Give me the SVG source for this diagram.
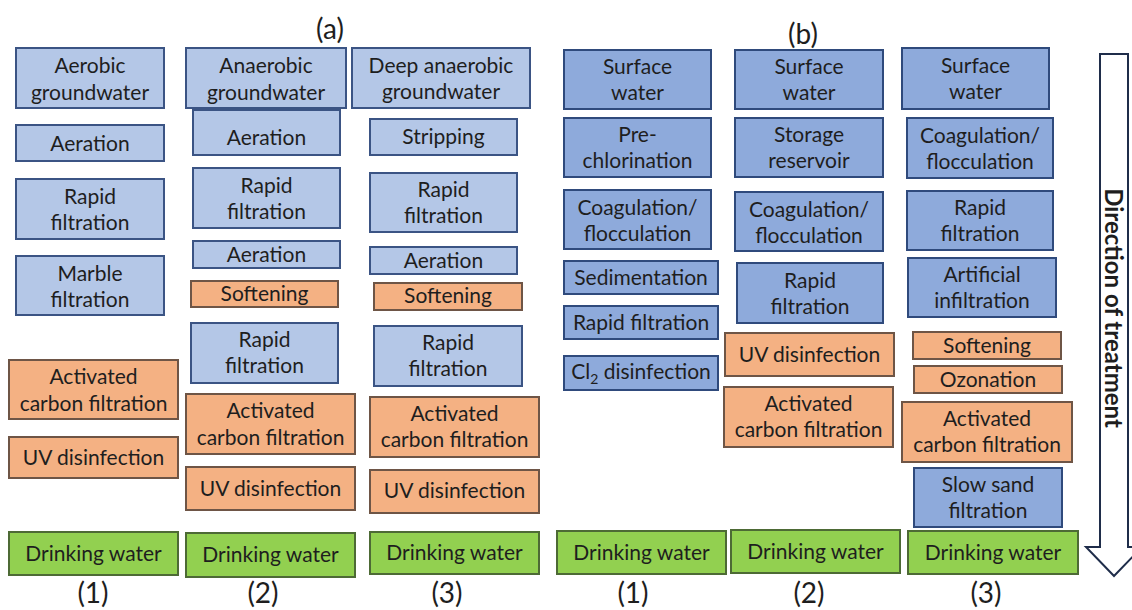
<svg xmlns="http://www.w3.org/2000/svg" width="1132" height="610" viewBox="0 0 1132 610">
  <style>
    rect { stroke-width: 2; }
    .ga { fill: #b4c7e7; stroke: #3b5484; }
    .sw { fill: #8eaadb; stroke: #2f4a7c; }
    .or { fill: #f4b183; stroke: #6e5546; }
    .dw { fill: #92d050; stroke: #4d6a35; }
    text { font-family: Lato, "Liberation Sans", sans-serif; font-size: 21px; fill: #1e1e1e; text-anchor: middle; }
    .lbl { font-size: 28px; }
    .dir { font-size: 24px; font-weight: bold; }
  </style>
  <rect width="1132" height="610" fill="#fff"/>

  <!-- panel labels -->
  <g id="labels">
    <text class="lbl" x="330" y="39">(a)</text>
    <text class="lbl" x="803" y="44">(b)</text>
    <text class="lbl" x="93" y="603">(1)</text>
    <text class="lbl" x="263" y="603">(2)</text>
    <text class="lbl" x="447" y="603">(3)</text>
    <text class="lbl" x="633" y="603">(1)</text>
    <text class="lbl" x="809" y="603">(2)</text>
    <text class="lbl" x="986" y="603">(3)</text>
  </g>

  <!-- (a)(1) aerobic groundwater -->
  <g id="a1-source"><rect class="ga" x="16" y="48" width="148" height="60"/><text x="90" y="73">Aerobic</text><text x="90" y="100">groundwater</text></g>
  <g id="a1-aeration"><rect class="ga" x="16" y="125" width="148" height="36"/><text x="90" y="151">Aeration</text></g>
  <g id="a1-rapid"><rect class="ga" x="16" y="179" width="148" height="60"/><text x="90" y="204">Rapid</text><text x="90" y="230">filtration</text></g>
  <g id="a1-marble"><rect class="ga" x="16" y="256" width="148" height="59"/><text x="90" y="281">Marble</text><text x="90" y="307">filtration</text></g>
  <g id="a1-carbon"><rect class="or" x="9" y="360" width="169" height="59"/><text x="93.5" y="384">Activated</text><text x="93.5" y="411">carbon filtration</text></g>
  <g id="a1-uv"><rect class="or" x="9" y="437" width="169" height="41"/><text x="93.5" y="465">UV disinfection</text></g>
  <g id="a1-drinking"><rect class="dw" x="9" y="532" width="169" height="43"/><text x="93.5" y="561">Drinking water</text></g>

  <!-- (a)(2) anaerobic groundwater -->
  <g id="a2-source"><rect class="ga" x="186" y="48" width="160" height="60"/><text x="266" y="73">Anaerobic</text><text x="266" y="100">groundwater</text></g>
  <g id="a2-aeration1"><rect class="ga" x="193" y="110" width="147" height="45"/><text x="266.5" y="145">Aeration</text></g>
  <g id="a2-rapid1"><rect class="ga" x="193" y="168" width="147" height="60"/><text x="266.5" y="193">Rapid</text><text x="266.5" y="219">filtration</text></g>
  <g id="a2-aeration2"><rect class="ga" x="193" y="241" width="147" height="27"/><text x="266.5" y="262">Aeration</text></g>
  <g id="a2-softening"><rect class="or" x="191" y="281" width="147" height="26"/><text x="264.5" y="301">Softening</text></g>
  <g id="a2-rapid2"><rect class="ga" x="191" y="323" width="147" height="60"/><text x="264.5" y="347">Rapid</text><text x="264.5" y="373">filtration</text></g>
  <g id="a2-carbon"><rect class="or" x="186" y="394" width="169" height="60"/><text x="270.5" y="418">Activated</text><text x="270.5" y="445">carbon filtration</text></g>
  <g id="a2-uv"><rect class="or" x="186" y="467" width="169" height="43"/><text x="270.5" y="496">UV disinfection</text></g>
  <g id="a2-drinking"><rect class="dw" x="186" y="533" width="169" height="44"/><text x="270.5" y="562">Drinking water</text></g>

  <!-- (a)(3) deep anaerobic groundwater -->
  <g id="a3-source"><rect class="ga" x="352" y="48" width="178" height="60"/><text x="441" y="73">Deep anaerobic</text><text x="441" y="99">groundwater</text></g>
  <g id="a3-stripping"><rect class="ga" x="370" y="119" width="147" height="36"/><text x="443.5" y="144">Stripping</text></g>
  <g id="a3-rapid1"><rect class="ga" x="370" y="173" width="147" height="59"/><text x="443.5" y="197">Rapid</text><text x="443.5" y="223">filtration</text></g>
  <g id="a3-aeration"><rect class="ga" x="370" y="247" width="147" height="27"/><text x="443.5" y="268">Aeration</text></g>
  <g id="a3-softening"><rect class="or" x="374" y="283" width="148" height="27"/><text x="448" y="303">Softening</text></g>
  <g id="a3-rapid2"><rect class="ga" x="374" y="326" width="148" height="60"/><text x="448" y="350">Rapid</text><text x="448" y="376">filtration</text></g>
  <g id="a3-carbon"><rect class="or" x="370" y="397" width="169" height="60"/><text x="454.5" y="421">Activated</text><text x="454.5" y="447">carbon filtration</text></g>
  <g id="a3-uv"><rect class="or" x="370" y="470" width="169" height="43"/><text x="454.5" y="498">UV disinfection</text></g>
  <g id="a3-drinking"><rect class="dw" x="370" y="532" width="169" height="42"/><text x="454.5" y="560">Drinking water</text></g>

  <!-- (b)(1) surface water -->
  <g id="b1-source"><rect class="sw" x="564" y="50" width="147" height="59"/><text x="637.5" y="74">Surface</text><text x="637.5" y="100">water</text></g>
  <g id="b1-prechlor"><rect class="sw" x="564" y="118" width="147" height="59"/><text x="637.5" y="142">Pre-</text><text x="637.5" y="168">chlorination</text></g>
  <g id="b1-coag"><rect class="sw" x="564" y="190" width="147" height="59"/><text x="637.5" y="215">Coagulation/</text><text x="637.5" y="241">flocculation</text></g>
  <g id="b1-sedimentation"><rect class="sw" x="564" y="261" width="154" height="33"/><text x="641" y="285">Sedimentation</text></g>
  <g id="b1-rapid"><rect class="sw" x="564" y="306" width="154" height="33"/><text x="641" y="330">Rapid filtration</text></g>
  <g id="b1-cl2"><rect class="sw" x="564" y="356" width="154" height="34"/><text x="641" y="379">Cl<tspan font-size="14" dy="5">2</tspan><tspan dy="-5"> disinfection</tspan></text></g>
  <g id="b1-drinking"><rect class="dw" x="557" y="531" width="169" height="43"/><text x="641.5" y="560">Drinking water</text></g>

  <!-- (b)(2) surface water with storage -->
  <g id="b2-source"><rect class="sw" x="735" y="50" width="148" height="59"/><text x="809" y="74">Surface</text><text x="809" y="100">water</text></g>
  <g id="b2-storage"><rect class="sw" x="735" y="118" width="148" height="59"/><text x="809" y="142">Storage</text><text x="809" y="168">reservoir</text></g>
  <g id="b2-coag"><rect class="sw" x="735" y="192" width="148" height="59"/><text x="809" y="217">Coagulation/</text><text x="809" y="243">flocculation</text></g>
  <g id="b2-rapid"><rect class="sw" x="737" y="263" width="146" height="60"/><text x="810" y="288">Rapid</text><text x="810" y="314">filtration</text></g>
  <g id="b2-uv"><rect class="or" x="725" y="333" width="169" height="43"/><text x="809.5" y="362">UV disinfection</text></g>
  <g id="b2-carbon"><rect class="or" x="724" y="387" width="169" height="60"/><text x="808.5" y="411">Activated</text><text x="808.5" y="437">carbon filtration</text></g>
  <g id="b2-drinking"><rect class="dw" x="731" y="530" width="169" height="43"/><text x="815.5" y="559">Drinking water</text></g>

  <!-- (b)(3) surface water with infiltration -->
  <g id="b3-source"><rect class="sw" x="902" y="48" width="147" height="61"/><text x="975.5" y="73">Surface</text><text x="975.5" y="99">water</text></g>
  <g id="b3-coag"><rect class="sw" x="907" y="118" width="146" height="60"/><text x="980" y="143">Coagulation/</text><text x="980" y="169">flocculation</text></g>
  <g id="b3-rapid"><rect class="sw" x="907" y="191" width="146" height="59"/><text x="980" y="215">Rapid</text><text x="980" y="241">filtration</text></g>
  <g id="b3-infiltration"><rect class="sw" x="908" y="258" width="148" height="59"/><text x="982" y="282">Artificial</text><text x="982" y="308">infiltration</text></g>
  <g id="b3-softening"><rect class="or" x="913" y="332" width="148" height="27"/><text x="987" y="353">Softening</text></g>
  <g id="b3-ozonation"><rect class="or" x="914" y="366" width="148" height="27"/><text x="988" y="387">Ozonation</text></g>
  <g id="b3-carbon"><rect class="or" x="902" y="402" width="170" height="60"/><text x="987" y="426">Activated</text><text x="987" y="452">carbon filtration</text></g>
  <g id="b3-slowsand"><rect class="sw" x="914" y="468" width="148" height="59"/><text x="988" y="492">Slow sand</text><text x="988" y="518">filtration</text></g>
  <g id="b3-drinking"><rect class="dw" x="908" y="531" width="170" height="43"/><text x="993" y="560">Drinking water</text></g>

  <!-- treatment direction arrow -->
  <g id="connectors">
    <path d="M1100,54 H1128 V547 H1142 L1114,576 L1086,547 H1100 Z" fill="#fff" stroke="#1f2d4a" stroke-width="2" stroke-linejoin="miter"/>
    <text class="dir" transform="translate(1105,308) rotate(90)" x="0" y="0">Direction of treatment</text>
  </g>
</svg>
